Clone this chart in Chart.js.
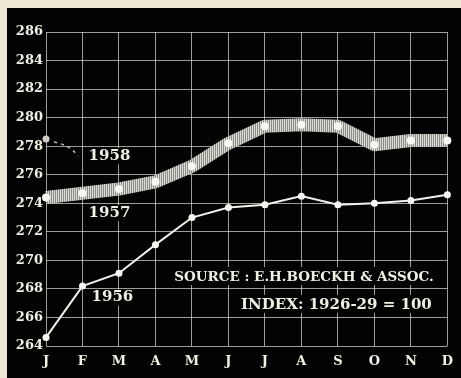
<!DOCTYPE html>
<html>
<head>
<meta charset="utf-8">
<script src="https://cdn.jsdelivr.net/npm/chart.js@4"></script>
<style>
  html, body { margin: 0; padding: 0; background: #efe8d4; }
  canvas { display: block; }
</style>
</head>
<body>
<canvas id="myChart" width="461" height="378"></canvas>
<script>
// values
const months = ['J', 'F', 'M', 'A', 'M', 'J', 'J', 'A', 'S', 'O', 'N', 'D'];
const index1956 = [264.6, 268.2, 269.1, 271.1, 273.0, 273.7, 273.9, 274.5, 273.9, 274.0, 274.2, 274.6];
const index1957 = [274.4, 274.7, 275.0, 275.5, 276.6, 278.2, 279.4, 279.5, 279.4, 278.1, 278.4, 278.4];
const index1958 = [278.5, null, null, null, null, null, null, null, null, null, null, null];
const yMin = 264, yMax = 286, yStep = 2;

const ink = '#f1eee4';
const serif = '"DejaVu Serif", "Liberation Serif", serif';

// fine hatched stroke for the wide 1957 band
function bandPattern(ctx) {
    const c = document.createElement('canvas');
    c.width = 2; c.height = 8;
    const p = c.getContext('2d');
    p.fillStyle = '#dcdad4';
    p.fillRect(0, 0, 1, 8);
    p.fillStyle = '#8e8c87';
    p.fillRect(1, 0, 1, 8);
    return ctx.createPattern(c, 'repeat');
}

const backdrop = {
    id: 'backdrop',
    beforeDraw(chart) {
        const ctx = chart.ctx;
        ctx.save();
        ctx.fillStyle = '#efe8d4';
        ctx.fillRect(0, 0, chart.width, chart.height);
        ctx.fillStyle = '#030303';
        ctx.fillRect(7, 8, chart.width - 7, chart.height - 8);
        ctx.restore();
    }
};

const notes = {
    id: 'notes',
    beforeDatasetsDraw(chart) {
        const { ctx, scales: { x, y } } = chart;
        const step = x.getPixelForValue(1) - x.getPixelForValue(0);
        const at = (i, v) => [x.getPixelForValue(0) + step * i, y.getPixelForValue(v)];
        ctx.save();
        ctx.textBaseline = 'middle';
        ctx.textAlign = 'center';

        // source box text with black behind it
        const lines = [
            { t: 'SOURCE : E.H.BOECKH & ASSOC.', i: 7.07, v: 268.9, f: 'bold 13.5px ' },
            { t: 'INDEX: 1926-29 = 100', i: 7.96, v: 266.95, f: 'bold 15px ' }
        ];
        lines.forEach(l => {
            ctx.font = l.f + serif;
            const [cx, cy] = at(l.i, l.v);
            const w = ctx.measureText(l.t).width;
            ctx.fillStyle = '#030303';
            ctx.fillRect(cx - w / 2 - 3, cy - 9, w + 6, 18);
            ctx.fillStyle = ink;
            ctx.fillText(l.t, cx, cy + 1);
        });

        // year labels
        ctx.font = 'bold 15px ' + serif;
        [['1958', 1.74, 277.3], ['1957', 1.74, 273.3], ['1956', 1.82, 267.4]].forEach(([t, i, v]) => {
            const [cx, cy] = at(i, v);
            ctx.fillStyle = '#030303';
            const w = ctx.measureText(t).width;
            ctx.fillRect(cx - w / 2 - 2, cy - 8, w + 4, 16);
            ctx.fillStyle = ink;
            ctx.fillText(t, cx, cy);
        });

        // dashed pointer from the lone 1958 point
        const [px, py] = at(0, index1958[0]);
        ctx.strokeStyle = '#bdbab2';
        ctx.lineWidth = 1.5;
        ctx.setLineDash([3, 4]);
        ctx.beginPath();
        ctx.moveTo(px + 8, py + 3);
        ctx.quadraticCurveTo(px + 24, py + 6, px + 32, py + 17);
        ctx.stroke();
        ctx.restore();
    }
};

function initChart() {
    const ctx = document.getElementById('myChart').getContext('2d');
    new Chart(ctx, {
        type: 'line',
        data: {
            labels: months,
            datasets: [
                {
                    label: '1957',
                    data: index1957,
                    borderColor: bandPattern(ctx),
                    borderWidth: 13,
                    borderJoinStyle: 'round',
                    pointRadius: 4,
                    pointBackgroundColor: '#f7f6f2',
                    pointBorderWidth: 0,
                    tension: 0
                },
                {
                    label: '1956',
                    data: index1956,
                    borderColor: '#f2f0ea',
                    borderWidth: 2,
                    pointRadius: 3.5,
                    pointBackgroundColor: '#f7f6f2',
                    pointBorderWidth: 0,
                    tension: 0
                },
                {
                    label: '1958',
                    data: index1958,
                    borderColor: '#cfccc4',
                    pointRadius: 3.5,
                    pointBackgroundColor: '#cfccc4',
                    pointBorderWidth: 0,
                    showLine: false
                }
            ]
        },
        options: {
            responsive: false,
            animation: false,
            layout: { padding: { left: 6, right: 10, top: 32, bottom: 0 } },
            plugins: {
                legend: { display: false },
                tooltip: { enabled: false }
            },
            scales: {
                x: {
                    offset: false,
                    afterFit(scale) { scale.height = 32; },
                    grid: { color: 'rgba(225,222,212,0.7)', lineWidth: 1, drawTicks: false },
                    border: { display: false },
                    ticks: {
                        color: ink,
                        padding: 8,
                        maxRotation: 0,
                        autoSkip: false,
                        font: { family: serif, size: 13, weight: 'bold' }
                    }
                },
                y: {
                    min: yMin,
                    max: yMax,
                    afterFit(scale) { scale.width = 40; },
                    grid: { color: 'rgba(225,222,212,0.7)', lineWidth: 1, drawTicks: false },
                    border: { display: false },
                    ticks: {
                        stepSize: yStep,
                        color: ink,
                        padding: 3,
                        font: { family: serif, size: 13, weight: 'bold' }
                    }
                }
            }
        },
        plugins: [backdrop, notes]
    });
}

document.addEventListener('DOMContentLoaded', initChart);
</script>
</body>
</html>
